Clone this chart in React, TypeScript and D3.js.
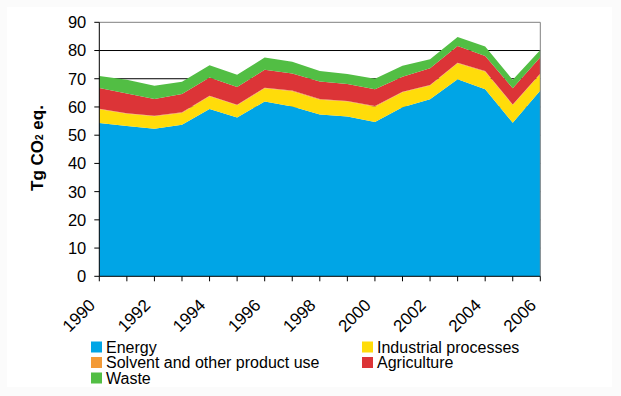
import * as d3 from "d3";

const years = [1990, 1991, 1992, 1993, 1994, 1995, 1996, 1997, 1998, 1999, 2000, 2001, 2002, 2003, 2004, 2005, 2006];
const energy = [54.3, 53.3, 52.3, 53.7, 59.3, 56.3, 61.9, 60.2, 57.3, 56.6, 54.7, 59.9, 62.7, 69.8, 66.3, 54.4, 65.8];
const industrial = [4.9, 4.3, 4.4, 4.2, 4.5, 4.3, 4.7, 5.4, 5.3, 5.3, 5.4, 5.3, 4.9, 5.7, 6.2, 6.3, 5.9];
const solvent = [0.2, 0.2, 0.2, 0.2, 0.2, 0.2, 0.2, 0.2, 0.2, 0.2, 0.2, 0.2, 0.2, 0.2, 0.2, 0.2, 0.2];
const agriculture = [7.3, 7.0, 5.9, 6.5, 6.4, 6.3, 6.4, 6.1, 6.2, 6.0, 6.0, 5.3, 5.9, 5.9, 5.4, 5.7, 5.7];
const waste = [4.3, 4.8, 4.7, 4.3, 4.4, 4.3, 4.3, 4.1, 3.7, 3.6, 3.7, 3.9, 3.2, 3.2, 3.3, 3.0, 2.6];
const yTicks = [0, 10, 20, 30, 40, 50, 60, 70, 80, 90];

const seriesNames = ["Energy", "Industrial processes", "Solvent and other product use", "Agriculture", "Waste"];
const colors = ["#00a5e6", "#ffdc0a", "#f39a36", "#dc3437", "#52be44"];

export default function App() {
  const width = 621;
  const height = 396;
  const left = 99.3;
  const right = 540.3;
  const top = 22.3;
  const bottom = 276.3;
  const font = "Arial, 'Liberation Sans', sans-serif";

  const table = years.map((y, i) => ({
    year: y,
    "Energy": energy[i],
    "Industrial processes": industrial[i],
    "Solvent and other product use": solvent[i],
    "Agriculture": agriculture[i],
    "Waste": waste[i],
  }));

  const x = d3.scaleLinear().domain([1990, 2006]).range([left, right]);
  const y = d3.scaleLinear().domain([0, 90]).range([bottom, top]);

  const stacked = d3.stack<any>().keys(seriesNames)(table);
  const area = d3
    .area<any>()
    .x((d) => x(d.data.year))
    .y0((d) => y(d[0]))
    .y1((d) => y(d[1]));

  const legend = [
    { name: seriesNames[0], col: 0, row: 0 },
    { name: seriesNames[1], col: 1, row: 0 },
    { name: seriesNames[2], col: 0, row: 1 },
    { name: seriesNames[3], col: 1, row: 1 },
    { name: seriesNames[4], col: 0, row: 2 },
  ];

  return (
    <svg width={width} height={height} style={{ position: "absolute", left: 0, top: 0 }}>
      <rect x={0} y={0} width={width} height={height} fill="#fbfbfb" />
      <rect x={7} y={7} width={605} height={380} fill="#ffffff" />
      {/* gridlines */}
      {yTicks.slice(1, -1).map((t) => (
        <line key={t} x1={left} x2={right} y1={y(t)} y2={y(t)} stroke="#000" strokeWidth={1} />
      ))}
      {stacked.map((s, i) => (
        <path key={s.key} d={area(s) || ""} fill={colors[i]} />
      ))}
      {/* plot border */}
      <line x1={left} x2={right} y1={y(90)} y2={y(90)} stroke="#808080" />
      <line x1={right} x2={right} y1={y(90)} y2={bottom} stroke="#808080" />
      {/* y axis */}
      <line x1={left} x2={left} y1={top} y2={bottom} stroke="#000" />
      {yTicks.map((t) => (
        <g key={t}>
          <line x1={left - 5} x2={left} y1={y(t)} y2={y(t)} stroke="#000" />
          <text x={left - 13} y={y(t)} dy="0.36em" textAnchor="end" fontFamily={font} fontSize={16.5} fill="#000">
            {t}
          </text>
        </g>
      ))}
      {/* x axis */}
      <line x1={left} x2={right} y1={bottom} y2={bottom} stroke="#000" />
      {years.map((yr) => (
        <line key={yr} x1={x(yr)} x2={x(yr)} y1={bottom} y2={bottom + 5} stroke="#000" />
      ))}
      {years
        .filter((yr) => yr % 2 === 0)
        .map((yr) => (
          <text
            key={yr}
            transform={`translate(${x(yr) - 3},${bottom + 30}) rotate(-45)`}
            textAnchor="end"
            fontFamily={font}
            fontSize={17}
            fill="#000"
          >
            {yr}
          </text>
        ))}
      {/* y title */}
      <text
        transform={`translate(43,148) rotate(-90)`}
        textAnchor="middle"
        fontFamily={font}
        fontSize={17}
        fontWeight="bold"
        fill="#000"
      >
        Tg CO<tspan fontSize={10}>2</tspan> eq.
      </text>
      {/* legend */}
      {legend.map((l) => {
        const lx = l.col === 0 ? 91 : 362;
        const ly = 341.5 + l.row * 15.5;
        return (
          <g key={l.name}>
            <rect x={lx} y={ly} width={11} height={11} fill={colors[seriesNames.indexOf(l.name)]} />
            <text x={lx + 15} y={ly + 5.5} dy="0.37em" fontFamily={font} fontSize={16} fill="#000">
              {l.name}
            </text>
          </g>
        );
      })}
      <rect x={0} y={387} width={width} height={9} fill="#fbfbfb" />
    </svg>
  );
}
